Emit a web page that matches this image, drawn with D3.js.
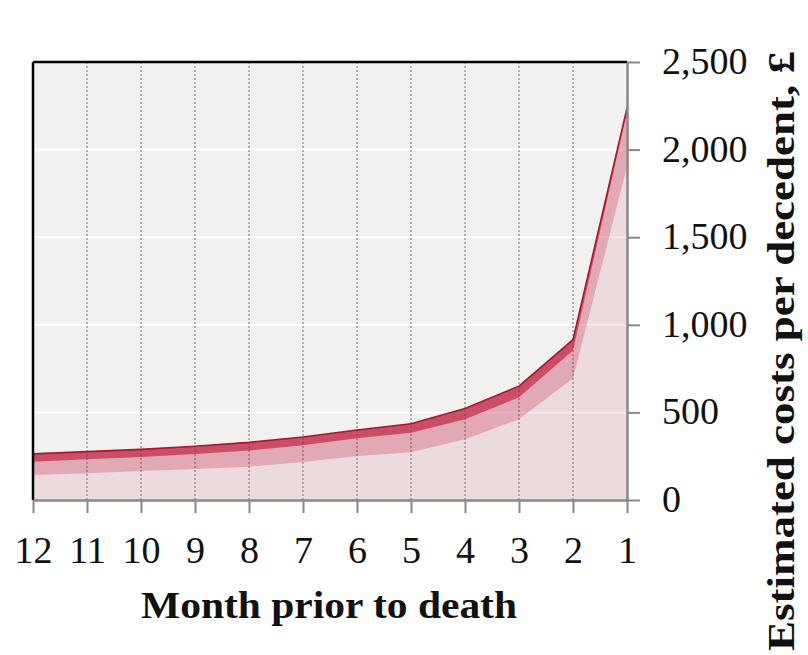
<!DOCTYPE html>
<html>
<head>
<meta charset="utf-8">
<script src="https://cdn.jsdelivr.net/npm/d3@7"></script>
<style>
  body { margin: 0; background: #fff; }
  svg text { font-family: "Liberation Serif", "DejaVu Serif", serif; fill: #111; }
</style>
</head>
<body>
<div id="chart"></div>
<script>
// Months prior to death, left to right
const months = [12, 11, 10, 9, 8, 7, 6, 5, 4, 3, 2, 1];
// Band boundaries (estimated costs per decedent, £)
const lowerBand = [143, 152, 166, 177, 190, 217, 251, 272, 347, 461, 695, 1903];
const middleBand = [219, 232, 246, 263, 282, 312, 352, 384, 461, 586, 853, 2215];
const totalCost = [263, 276, 289, 307, 329, 360, 400, 435, 522, 650, 915, 2237];
const yTicks = [0, 500, 1000, 1500, 2000, 2500];

const W = 808, H = 655;
const margin = { top: 62, right: 181, bottom: 155, left: 33 };
const width = W - margin.left - margin.right;
const height = H - margin.top - margin.bottom;

const svg = d3.select('#chart')
  .append('svg')
  .attr('width', W)
  .attr('height', H);

const g = svg.append('g')
  .attr('transform', `translate(${margin.left},${margin.top})`);

const x = d3.scalePoint()
  .domain(months)
  .range([0, width]);

const y = d3.scaleLinear()
  .domain([0, 2500])
  .range([height, 0]);

const data = months.map((m, i) => ({ m, lo: lowerBand[i], mid: middleBand[i], top: totalCost[i] }));

// background
g.append('rect')
  .attr('width', width)
  .attr('height', height)
  .attr('fill', '#f2f1ef');

// horizontal white grid
g.selectAll('.hgrid')
  .data(yTicks.filter(d => d > 0 && d < 2500))
  .enter()
  .append('line')
  .attr('x1', 0).attr('x2', width)
  .attr('y1', d => y(d)).attr('y2', d => y(d))
  .attr('stroke', '#fff')
  .attr('stroke-width', 2);

// vertical dotted grid
g.selectAll('.vgrid')
  .data(months.slice(1, -1))
  .enter()
  .append('line')
  .attr('x1', d => x(d)).attr('x2', d => x(d))
  .attr('y1', 0).attr('y2', height)
  .attr('stroke', '#9a9a9a')
  .attr('stroke-width', 1.5)
  .attr('stroke-dasharray', '2,2');

const base = '#bc1838';

// Light fill: 0 to total
g.append('path')
  .datum(data)
  .attr('fill', base).attr('fill-opacity', 0.1)
  .attr('d', d3.area().x(d => x(d.m)).y0(y(0)).y1(d => y(d.top)));

// Medium band: lower to total
g.append('path')
  .datum(data)
  .attr('fill', base).attr('fill-opacity', 0.25)
  .attr('d', d3.area().x(d => x(d.m)).y0(d => y(d.lo)).y1(d => y(d.top)));

// Dark band: middle to total
g.append('path')
  .datum(data)
  .attr('fill', base).attr('fill-opacity', 0.62)
  .attr('d', d3.area().x(d => x(d.m)).y0(d => y(d.mid)).y1(d => y(d.top)));

// Top line
g.append('path')
  .datum(data)
  .attr('fill', 'none')
  .attr('stroke', '#b0122f')
  .attr('stroke-width', 1.6)
  .attr('d', d3.line().x(d => x(d.m)).y(d => y(d.top)));

// top and left black borders
g.append('line').attr('x1', 0).attr('x2', width).attr('y1', 0).attr('y2', 0)
  .attr('stroke', '#000').attr('stroke-width', 2.5);
g.append('line').attr('x1', 0).attr('x2', 0).attr('y1', 0).attr('y2', height)
  .attr('stroke', '#000').attr('stroke-width', 2.5);

// X axis
const xAxis = g.append('g')
  .attr('transform', `translate(0,${height})`)
  .call(d3.axisBottom(x).tickSize(13).tickSizeOuter(0));
xAxis.select('.domain').attr('stroke', '#888').attr('stroke-width', 2.5);
xAxis.selectAll('.tick line').attr('stroke', '#888').attr('stroke-width', 2);
xAxis.selectAll('.tick text')
  .attr('y', 63).attr('dy', 0)
  .style('font-size', '38px')
  .style('font-family', '"Liberation Serif", serif')
  .attr('fill', '#111');

// Y axis (right)
const yAxis = g.append('g')
  .attr('transform', `translate(${width},0)`)
  .call(d3.axisRight(y).tickValues(yTicks).tickSize(13).tickSizeOuter(0).tickPadding(22).tickFormat(d3.format(',')));
yAxis.select('.domain').attr('stroke', '#888').attr('stroke-width', 2.5);
yAxis.selectAll('.tick line').attr('stroke', '#888').attr('stroke-width', 2);
yAxis.selectAll('.tick text')
  .attr('dy', '0.3em')
  .style('font-size', '38px')
  .style('font-family', '"Liberation Serif", serif')
  .attr('fill', '#111');

// Axis titles
svg.append('text')
  .attr('x', 329)
  .attr('y', 618)
  .attr('text-anchor', 'middle')
  .attr('textLength', 376)
  .attr('lengthAdjust', 'spacingAndGlyphs')
  .style('font-size', '37px')
  .style('font-weight', 'bold')
  .text('Month prior to death');

svg.append('text')
  .attr('transform', `translate(794,351) rotate(-90)`)
  .attr('text-anchor', 'middle')
  .attr('textLength', 600)
  .attr('lengthAdjust', 'spacingAndGlyphs')
  .style('font-size', '37px')
  .style('font-weight', 'bold')
  .text('Estimated costs per decedent, £');
</script>
</body>
</html>
